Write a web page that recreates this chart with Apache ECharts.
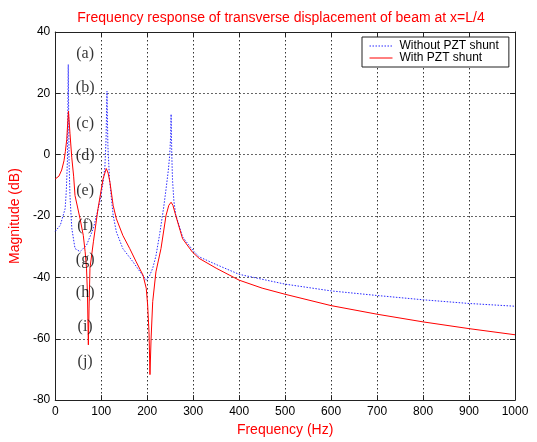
<!DOCTYPE html>
<html>
<head>
<meta charset="utf-8">
<script src="https://cdn.jsdelivr.net/npm/echarts@6/dist/echarts.min.js"></script>
<style>
html,body{margin:0;padding:0;background:#fff;}
#chart{width:537px;height:442px;}
</style>
</head>
<body>
<div id="chart"></div>
<script>
// Frequency (Hz) / magnitude (dB)
const freqWithout = [0, 11, 21.5, 24, 26.5, 28.3, 30, 32, 36, 43, 54, 68, 83, 97, 104, 108, 110.5, 112.5, 114.5, 118, 122, 126, 133, 147, 169, 187, 198, 205, 212, 219, 227, 236, 241, 246, 249, 251, 252, 253.5, 255, 258, 262, 277, 300, 313, 350, 400, 450, 500, 600, 700, 800, 900, 1000];
const magWithout  = [-25, -23, -17.6, -12, -2, 29.4, -2, -13.3, -24, -30.6, -31.6, -29.5, -24, -15.4, -9, -4, 5, 20.7, 3, -8, -14, -19.8, -25.2, -30.6, -34.9, -38.7, -40.9, -39.5, -37, -33, -26, -17, -11.2, -5, 0, 6, 13.2, 0, -8, -15, -19.5, -26.8, -31.3, -33.3, -35.8, -39, -40.6, -42.2, -44.4, -45.9, -47.3, -48.5, -49.4];

const freqWith = [0, 8, 14, 19, 22, 25, 27, 28.7, 32, 36, 40, 43, 54, 61, 65, 68, 70, 72, 73.5, 75.5, 83, 93, 104, 111, 115, 119, 126, 133, 147, 162, 176, 191, 198, 201, 204, 206, 208.5, 212, 219, 230, 241, 247, 252, 256, 262, 277, 298, 313, 350, 400, 450, 500, 600, 700, 800, 900, 1000];
const magWith  = [-7.9, -7.0, -5, -2, 1, 5, 10, 14.2, 7, -1, -7, -13.3, -20.9, -26.3, -31.6, -37, -45, -62, -50, -37, -28.4, -17.6, -7.9, -4.5, -6, -9, -16.6, -20.9, -26.3, -30.6, -34.9, -39.3, -43.6, -49, -58, -71.7, -59.8, -47.9, -38.2, -30.6, -19.8, -16.5, -15.5, -16.5, -19.8, -27.4, -31.7, -33.8, -37, -40.9, -43.5, -45.5, -49.2, -52, -54.5, -56.7, -58.7];

const panelLabels = ['(a)', '(b)', '(c)', '(d)', '(e)', '(f)', '(g)', '(h)', '(i)', '(j)'];
const panelLabelFreq = 65;
const panelLabelMag = [32.8, 21.8, 10.2, -0.4, -11.9, -23.1, -34.4, -45, -56, -67.4];

const xTicks = {min: 0, max: 1000, interval: 100};
const yTicks = {min: -80, max: 40, interval: 20};

const seriesNames = ['Without PZT shunt', 'With PZT shunt'];

const chart = echarts.init(document.getElementById('chart'), null, {renderer: 'canvas'});
const axisLineStyle = {color: '#222', width: 1};
const splitLineStyle = {show: true, lineStyle: {color: '#333', type: [1.5, 2.5], width: 1}};

chart.setOption({
  animation: false,
  backgroundColor: '#fff',
  title: {
    text: 'Frequency response of transverse displacement of beam at x=L/4',
    left: 276, top: 6, textAlign: 'center',
    textStyle: {color: '#ff0000', fontFamily: 'Liberation Sans', fontSize: 14, fontWeight: 'normal'}
  },
  legend: {
    data: seriesNames,
    orient: 'vertical',
    left: 362, top: 37,
    padding: [3, 10, 3, 7],
    itemGap: 0,
    itemWidth: 23, itemHeight: 8,
    itemStyle: {opacity: 0},
    lineStyle: {width: 1},
    backgroundColor: '#fff',
    borderColor: '#222', borderWidth: 1,
    textStyle: {color: '#000', fontFamily: 'Liberation Sans', fontSize: 12, lineHeight: 11, padding: [0, 0, 0, 2]}
  },
  grid: {left: 52, right: 22, top: 32, bottom: 39, containLabel: false},
  xAxis: [
    {type: 'value', position: 'bottom', min: xTicks.min, max: xTicks.max, interval: xTicks.interval,
     name: 'Frequency (Hz)', nameLocation: 'middle', nameGap: 20,
     nameTextStyle: {color: '#ff0000', fontFamily: 'Liberation Sans', fontSize: 14},
     axisLine: {show: true, onZero: false, lineStyle: axisLineStyle},
     axisTick: {show: true, inside: true, length: 5, lineStyle: axisLineStyle},
     axisLabel: {color: '#000', fontFamily: 'Liberation Sans', fontSize: 12, margin: 6, formatter: v => String(v)},
     splitLine: splitLineStyle},
    {type: 'value', position: 'top', min: xTicks.min, max: xTicks.max, interval: xTicks.interval,
     axisLine: {show: true, onZero: false, lineStyle: axisLineStyle},
     axisTick: {show: true, inside: true, length: 5, lineStyle: axisLineStyle},
     axisLabel: {show: false}, splitLine: {show: false}}
  ],
  yAxis: [
    {type: 'value', position: 'left', min: yTicks.min, max: yTicks.max, interval: yTicks.interval,
     name: 'Magnitude (dB)', nameLocation: 'middle', nameGap: 23,
     nameTextStyle: {color: '#ff0000', fontFamily: 'Liberation Sans', fontSize: 14},
     axisLine: {show: true, onZero: false, lineStyle: axisLineStyle},
     axisTick: {show: true, inside: true, length: 5, lineStyle: axisLineStyle},
     axisLabel: {color: '#000', fontFamily: 'Liberation Sans', fontSize: 12, margin: 5},
     splitLine: splitLineStyle},
    {type: 'value', position: 'right', min: yTicks.min, max: yTicks.max, interval: yTicks.interval,
     axisLine: {show: true, onZero: false, lineStyle: axisLineStyle},
     axisTick: {show: true, inside: true, length: 5, lineStyle: axisLineStyle},
     axisLabel: {show: false}, splitLine: {show: false}}
  ],
  series: [
    {name: seriesNames[0], type: 'line', xAxisIndex: 0, yAxisIndex: 0,
     data: freqWithout.map((f, i) => [f, magWithout[i]]),
     symbol: 'none', smooth: false,
     lineStyle: {color: '#2a2aff', width: 1, type: [1.5, 1.5]},
     itemStyle: {color: '#2a2aff'}, z: 3},
    {name: seriesNames[1], type: 'line', xAxisIndex: 0, yAxisIndex: 0,
     data: freqWith.map((f, i) => [f, magWith[i]]),
     symbol: 'none', smooth: false,
     lineStyle: {color: '#ff0000', width: 1},
     itemStyle: {color: '#ff0000'}, z: 4},
    {name: 'labels', type: 'scatter', xAxisIndex: 0, yAxisIndex: 0, silent: true,
     symbolSize: 0,
     data: panelLabels.map((t, i) => ({value: [panelLabelFreq, panelLabelMag[i]], name: t})),
     label: {show: true, position: 'inside', formatter: p => p.name,
             color: '#000', fontFamily: 'Liberation Serif', fontSize: 16},
     z: 5}
  ]
});
</script>
</body>
</html>
